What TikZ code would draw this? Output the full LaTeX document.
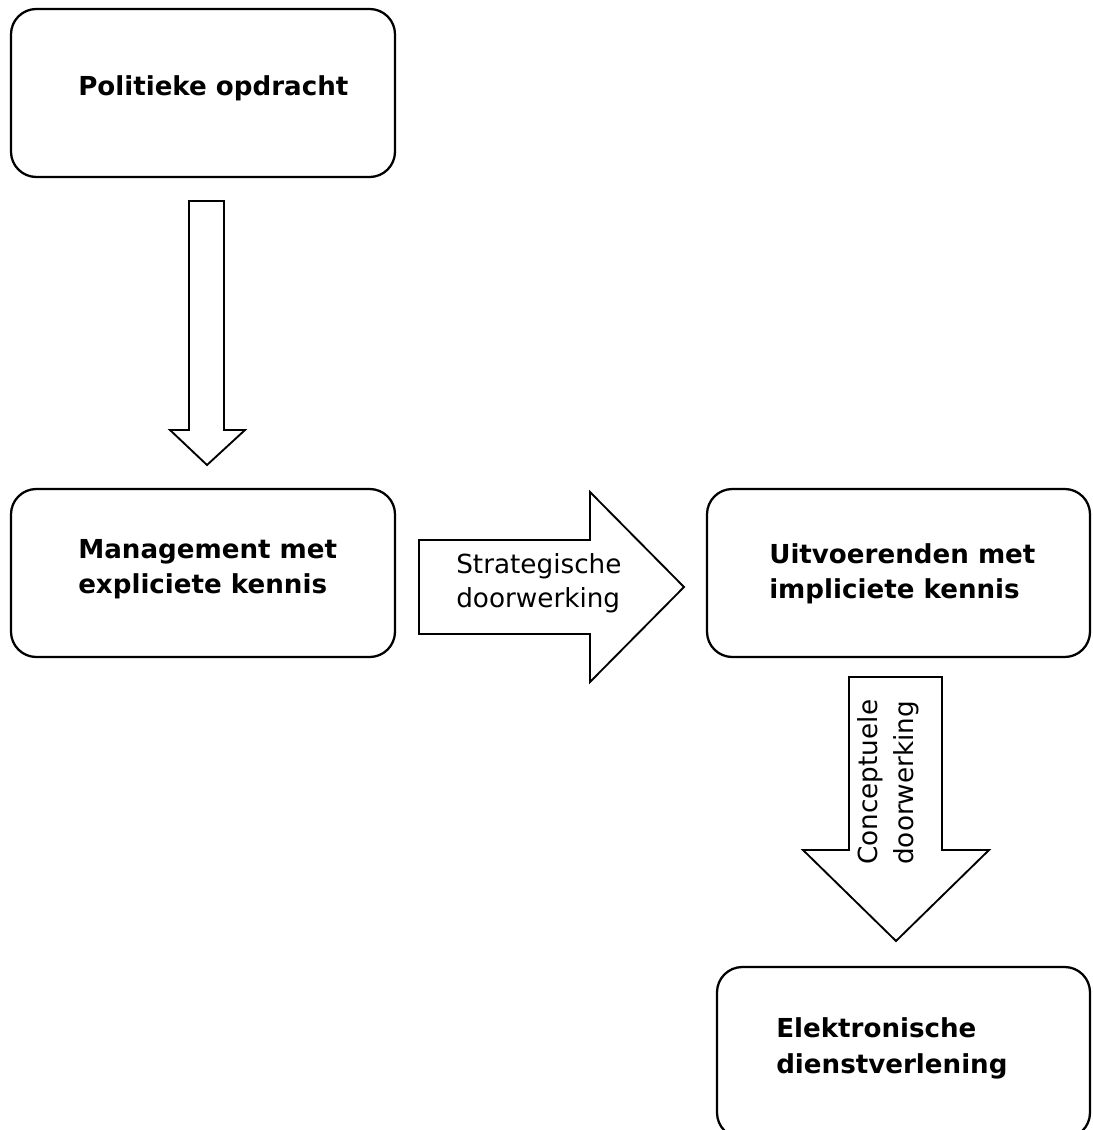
\documentclass[tikz,border=0pt]{standalone}
\usepackage{fontspec}
\setmainfont{DejaVu Sans}
\begin{document}
\begin{tikzpicture}[x=0.75pt,y=-0.75pt,
  box/.style={draw=black, line width=1.7pt, rounded corners=19pt, fill=white, inner sep=0pt},
  blockarrow/.style={draw=black, line width=1.4pt, fill=white, line join=miter},
  boldlabel/.style={anchor=base west, inner sep=0pt, font=\fontsize{19.6pt}{24pt}\selectfont\bfseries},
  plainlabel/.style={anchor=base west, inner sep=0pt, font=\fontsize{19.7pt}{24pt}\selectfont}]
\useasboundingbox (0,0) rectangle (1092,1130);
\clip (0,0) rectangle (1092,1130);

% boxes
\node[box, minimum width=288pt, minimum height=126pt] (politiek) at (203,93) {};
\node[box, minimum width=288pt, minimum height=126pt] (management) at (203,573) {};
\node[box, minimum width=287.25pt, minimum height=126pt] (uitvoerenden) at (898.5,573) {};
\node[box, minimum width=279.75pt, minimum height=128.25pt] (dienst) at (903.5,1052.5) {};

% box texts
\node[boldlabel] (t1) at (78,96) {Politieke opdracht};
\node[boldlabel] (t2a) at (78,558) {Management met};
\node[boldlabel] (t2b) at (78,593) {expliciete kennis};
\node[boldlabel] (t3a) at (769,563) {Uitvoerenden met};
\node[boldlabel] (t3b) at (769,598) {impliciete kennis};
\node[boldlabel] (t4a) at (776,1037) {Elektronische};
\node[boldlabel] (t4b) at (776,1073) {dienstverlening};

% block arrow: politieke opdracht -> management
\draw[blockarrow] (189,201) -- (224,201) -- (224,430) -- (245,430) -- (207,465)
  -- (170,430) -- (189,430) -- cycle;

% block arrow: management -> uitvoerenden
\draw[blockarrow] (419,540) -- (590,540) -- (590,492) -- (684,587) -- (590,682)
  -- (590,634) -- (419,634) -- cycle;
\node[plainlabel] (s1) at (456,573) {Strategische};
\node[plainlabel] (s2) at (456,607) {doorwerking};

% block arrow: uitvoerenden -> dienstverlening
\draw[blockarrow] (849,677) -- (942,677) -- (942,850) -- (989,850) -- (896,941)
  -- (803,850) -- (849,850) -- cycle;
\node[plainlabel, rotate=90] (c1) at (877,865) {Conceptuele};
\node[plainlabel, rotate=90] (c2) at (913,865) {doorwerking};
\end{tikzpicture}
\end{document}
